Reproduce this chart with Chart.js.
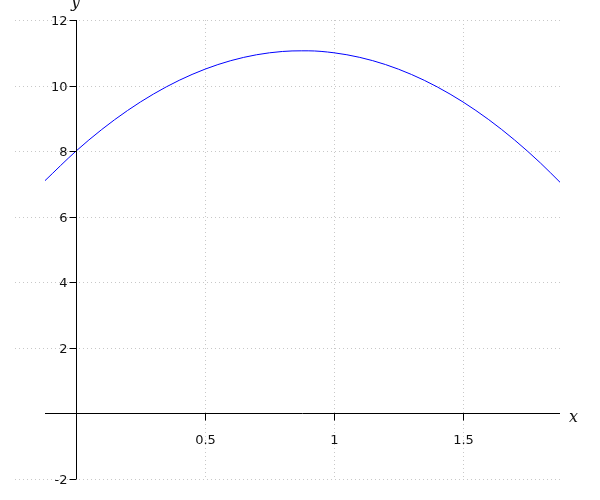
<!DOCTYPE html>
<html>
<head>
<meta charset="utf-8">
<script src="https://cdn.jsdelivr.net/npm/chart.js@4/dist/chart.umd.min.js"></script>
<style>
html,body{margin:0;padding:0;background:#fff;}
#wrap{width:600px;height:500px;}
</style>
</head>
<body>
<div id="wrap"><canvas id="c" width="600" height="500"></canvas></div>
<script>
const xValues = [-0.12, 0, 0.1, 0.2, 0.3, 0.4, 0.5, 0.6, 0.7, 0.8, 0.875, 0.9, 1.0, 1.1, 1.2, 1.3, 1.4, 1.5, 1.6, 1.7, 1.8, 1.88];
const yValues = [7.10, 8.00, 8.66, 9.24, 9.74, 10.16, 10.50, 10.76, 10.94, 11.04, 11.06, 11.06, 11.00, 10.86, 10.64, 10.34, 9.96, 9.50, 8.96, 8.34, 7.64, 7.02];
const xTicks = [0.5, 1, 1.5];
const xTickLabels = ['0.5', '1', '1.5'];
const yTicks = [-2, 2, 4, 6, 8, 10, 12];
const yTickLabels = ['-2', '2', '4', '6', '8', '10', '12'];
const xLabel = 'x';
const yLabel = 'y';

const points = xValues.map((x, i) => ({x: x, y: yValues[i]}));

const axesPlugin = {
  id: 'sageAxes',
  beforeDatasetsDraw(chart) {
    const ctx = chart.ctx, a = chart.chartArea;
    const xs = chart.scales.x, ys = chart.scales.y;
    ctx.save();
    ctx.strokeStyle = '#c8c8c8';
    ctx.lineWidth = 1;
    ctx.setLineDash([1, 3]);
    xTicks.forEach(v => {
      const px = Math.round(xs.getPixelForValue(v)) + 0.5;
      ctx.beginPath(); ctx.moveTo(px, a.top); ctx.lineTo(px, a.bottom); ctx.stroke();
    });
    yTicks.forEach(v => {
      const py = Math.round(ys.getPixelForValue(v)) + 0.5;
      ctx.beginPath(); ctx.moveTo(a.left - 30, py); ctx.lineTo(a.right, py); ctx.stroke();
    });
    ctx.restore();
  },
  afterDatasetsDraw(chart) {
    const ctx = chart.ctx, a = chart.chartArea;
    const xs = chart.scales.x, ys = chart.scales.y;
    const x0 = Math.round(xs.getPixelForValue(0)) + 0.5;
    const y0 = Math.round(ys.getPixelForValue(0)) + 0.5;
    ctx.save();
    ctx.strokeStyle = '#000';
    ctx.lineWidth = 1;
    ctx.setLineDash([]);
    // x axis
    ctx.beginPath(); ctx.moveTo(a.left, y0); ctx.lineTo(a.right, y0); ctx.stroke();
    // y axis
    ctx.beginPath(); ctx.moveTo(x0, a.top); ctx.lineTo(x0, a.bottom); ctx.stroke();
    // ticks
    ctx.fillStyle = '#111';
    ctx.font = '13px "DejaVu Sans"';
    ctx.textAlign = 'center';
    ctx.textBaseline = 'middle';
    xTicks.forEach((v, i) => {
      const px = Math.round(xs.getPixelForValue(v)) + 0.5;
      ctx.beginPath(); ctx.moveTo(px, y0); ctx.lineTo(px, y0 + 7); ctx.stroke();
      ctx.fillText(xTickLabels[i], px, y0 + 27);
    });
    ctx.textAlign = 'right';
    yTicks.forEach((v, i) => {
      const py = Math.round(ys.getPixelForValue(v)) + 0.5;
      ctx.beginPath(); ctx.moveTo(x0 - 7, py); ctx.lineTo(x0, py); ctx.stroke();
      ctx.fillText(yTickLabels[i], x0 - 9, py + 1);
    });
    // axis labels
    ctx.font = 'italic 16px "DejaVu Serif"';
    ctx.textAlign = 'left';
    ctx.fillText(xLabel, a.right + 9, y0 + 4);
    ctx.textAlign = 'center';
    ctx.fillText(yLabel, x0 - 1, a.top - 17);
    ctx.restore();
  }
};

new Chart(document.getElementById('c'), {
  type: 'scatter',
  data: {
    datasets: [{
      data: points,
      showLine: true,
      borderColor: '#0000ff',
      borderWidth: 1,
      pointRadius: 0,
      tension: 0.4,
      cubicInterpolationMode: 'monotone',
      fill: false
    }]
  },
  options: {
    responsive: false,
    animation: false,
    devicePixelRatio: 1,
    layout: {padding: {left: 45, right: 40, top: 20, bottom: 21}},
    plugins: {legend: {display: false}, tooltip: {enabled: false}},
    scales: {
      x: {type: 'linear', display: false, min: -0.12, max: 1.876},
      y: {type: 'linear', display: false, min: -2, max: 12}
    }
  },
  plugins: [axesPlugin]
});
</script>
</body>
</html>
